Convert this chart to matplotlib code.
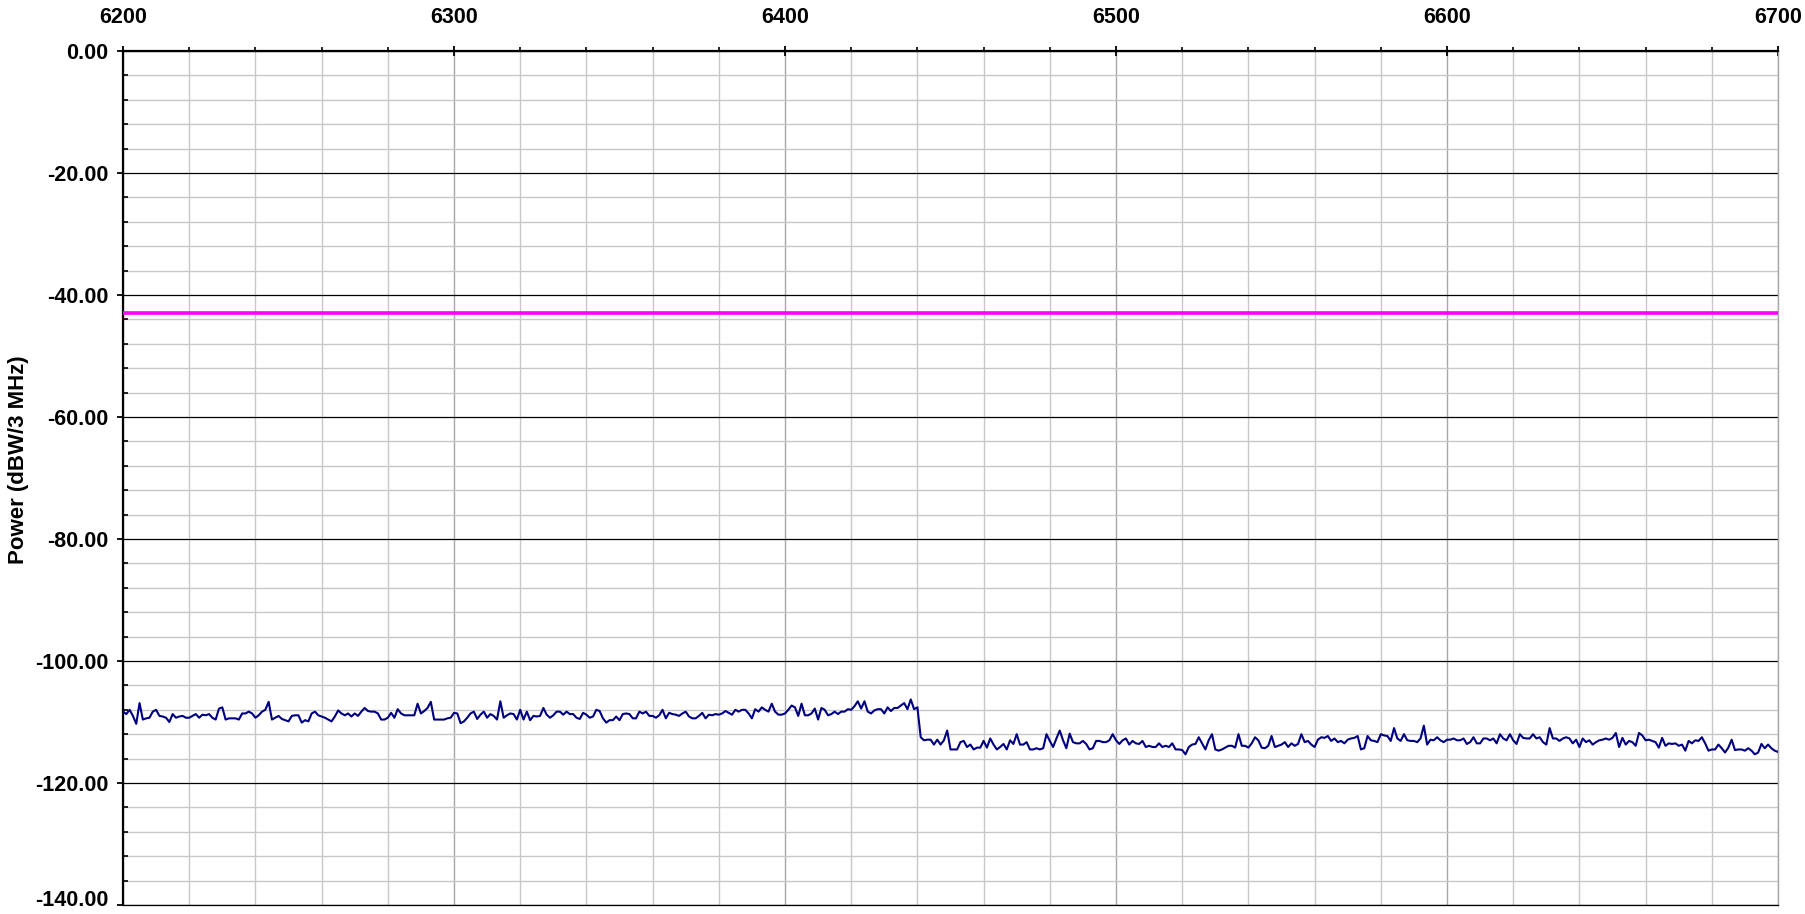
import numpy as np
import matplotlib
matplotlib.use("Agg")
import matplotlib.pyplot as plt
import matplotlib.transforms as mtransforms
from matplotlib.ticker import MultipleLocator, FormatStrFormatter

# ---- data ----
freq_start = 6200
freq_step = 1
power_6200 = [-108.3, -108.7, -108.0, -109.0, -110.3, -106.9, -109.6, -109.4, -109.3, -108.3,
              -108.0, -109.0, -109.1, -109.3, -110.0, -108.7, -109.3, -109.1, -109.0, -109.3,
              -109.3, -109.0, -108.7, -109.3, -108.8, -108.9, -108.7, -109.3, -109.6, -107.8,
              -107.6, -109.6, -109.4, -109.4, -109.4, -109.6, -108.6, -108.6, -108.3, -108.6,
              -109.3, -108.9, -108.3, -108.0, -106.7, -109.6, -109.3, -109.0, -109.5, -109.7,
              -109.9, -109.0, -108.9, -108.9, -110.1, -109.7, -109.9, -108.6, -108.3, -108.9,
              -109.1, -109.3, -109.6, -109.9, -109.1, -108.1, -108.6, -108.9, -108.6, -109.1,
              -108.6, -109.0, -108.3, -107.7, -108.2, -108.3, -108.3, -108.6, -109.6, -109.6,
              -109.3, -108.5, -109.3, -107.9, -108.6, -108.9, -108.9, -108.9, -108.9, -107.0,
              -108.6, -108.2, -107.7, -106.7, -109.6, -109.6, -109.6, -109.6, -109.4, -109.3]
power_6300 = [-108.5, -108.6, -110.2, -109.9, -109.3, -108.6, -108.3, -109.5, -108.8, -108.3,
              -109.3, -108.7, -109.0, -109.6, -106.6, -109.3, -108.9, -108.6, -108.7, -109.6,
              -108.0, -109.6, -108.3, -109.7, -109.0, -109.1, -109.0, -107.7, -108.8, -109.3,
              -108.9, -108.3, -108.3, -108.8, -108.3, -108.7, -108.7, -109.3, -109.5, -108.5,
              -108.8, -109.3, -109.1, -108.0, -108.2, -109.4, -110.1, -109.7, -109.7, -109.1,
              -109.7, -108.7, -108.6, -108.7, -109.4, -109.4, -108.3, -108.6, -108.3, -109.0,
              -109.0, -109.3, -108.9, -108.0, -109.4, -108.5, -108.7, -108.8, -109.0, -108.6,
              -108.3, -109.1, -109.4, -109.4, -109.0, -108.5, -109.4, -108.8, -108.9, -108.7,
              -108.8, -108.6, -108.2, -108.5, -108.8, -108.0, -108.3, -108.0, -108.0, -108.6,
              -109.4, -107.9, -108.3, -107.6, -108.0, -108.3, -107.0, -108.3, -108.8, -108.8]
power_6400 = [-108.6, -108.0, -107.3, -107.6, -109.0, -107.0, -108.9, -108.9, -108.6, -107.8,
              -109.6, -107.7, -108.0, -108.9, -108.7, -108.3, -108.7, -108.3, -108.3, -107.9,
              -108.0, -107.4, -106.6, -107.8, -106.6, -108.3, -108.6, -108.1, -107.9, -107.9,
              -108.6, -107.6, -108.2, -107.7, -107.7, -107.3, -106.9, -107.9, -106.3, -107.9,
              -107.6, -112.5, -113.0, -112.9, -112.9, -113.7, -112.9, -113.7, -113.0, -111.4,
              -114.5, -114.5, -114.5, -113.3, -113.1, -114.1, -113.7, -114.5, -114.2, -114.2,
              -113.1, -114.2, -112.7, -113.7, -114.5, -114.1, -113.6, -114.5, -113.0, -113.6,
              -112.0, -113.7, -113.7, -113.3, -114.5, -114.5, -114.3, -114.5, -114.3, -112.0,
              -113.1, -114.1, -112.7, -111.4, -113.0, -114.3, -111.9, -113.3, -113.5, -113.5,
              -113.1, -113.6, -114.5, -114.3, -113.1, -113.1, -113.3, -113.3, -113.0, -112.0]
power_6500 = [-113.0, -113.6, -113.0, -112.7, -113.7, -113.1, -113.5, -113.6, -113.1, -114.1,
              -113.9, -114.1, -114.1, -113.5, -114.1, -113.9, -114.1, -113.5, -114.5, -114.5,
              -114.6, -115.3, -114.1, -113.7, -113.6, -112.5, -113.5, -114.5, -113.0, -112.0,
              -114.5, -114.7, -114.5, -114.2, -113.9, -113.9, -114.2, -112.0, -113.9, -113.9,
              -114.2, -113.5, -112.5, -113.0, -114.2, -114.3, -113.9, -112.3, -114.1, -113.9,
              -113.7, -113.3, -114.1, -113.5, -113.9, -113.6, -112.0, -113.3, -113.1, -113.7,
              -114.1, -112.9, -112.5, -112.6, -112.3, -113.1, -112.7, -113.3, -113.1, -113.5,
              -112.9, -112.7, -112.6, -112.3, -114.5, -114.3, -112.3, -113.0, -113.1, -113.3,
              -112.0, -112.2, -112.3, -113.1, -111.0, -112.7, -113.1, -112.0, -113.0, -113.1,
              -113.1, -113.3, -112.7, -110.6, -113.7, -112.9, -113.0, -112.5, -113.0, -113.3]
power_6600 = [-112.9, -112.9, -112.7, -113.0, -113.0, -112.7, -113.6, -113.3, -112.5, -113.5,
              -113.5, -112.7, -112.7, -113.0, -112.7, -113.5, -112.0, -112.7, -113.0, -112.0,
              -113.0, -113.6, -112.0, -112.6, -112.7, -112.7, -112.0, -112.7, -112.5, -113.3,
              -113.7, -111.0, -112.7, -112.7, -113.1, -112.7, -112.5, -112.7, -113.5, -112.9,
              -114.1, -112.7, -113.3, -113.0, -113.7, -113.3, -113.0, -112.9, -112.7, -112.9,
              -112.6, -111.8, -114.1, -112.6, -113.7, -113.1, -113.3, -113.9, -111.8, -112.2,
              -113.0, -112.9, -113.1, -113.3, -114.2, -112.6, -113.9, -113.5, -113.6, -113.5,
              -113.9, -113.7, -114.7, -113.1, -113.5, -113.0, -113.1, -112.5, -113.5, -114.7,
              -114.5, -114.5, -113.7, -114.3, -115.0, -114.2, -112.9, -114.6, -114.5, -114.5,
              -114.7, -114.3, -114.7, -115.3, -115.0, -113.6, -114.3, -113.7, -114.3, -114.7,
              -114.9]
limit_level = -43.0
x_range = (6200, 6700)
y_range = (-140, 0)
y_label = "Power (dBW/3 MHz)"

power = power_6200 + power_6300 + power_6400 + power_6500 + power_6600
freqs = freq_start + freq_step * np.arange(len(power))

# ---- plot ----
plt.rcParams['font.family'] = ['Liberation Sans', 'DejaVu Sans']
plt.rcParams['font.weight'] = 'bold'

fig = plt.figure(figsize=(18.06, 9.14), dpi=100)
ax = fig.add_axes([123 / 1806, 1 - 905 / 914, (1778 - 123) / 1806, (905 - 51) / 914])

ax.set_xlim(*x_range)
ax.set_ylim(*y_range)

ax.xaxis.set_major_locator(MultipleLocator(100))
ax.xaxis.set_minor_locator(MultipleLocator(20))
ax.yaxis.set_major_locator(MultipleLocator(20))
ax.yaxis.set_minor_locator(MultipleLocator(4))
ax.yaxis.set_major_formatter(FormatStrFormatter('%.2f'))

ax.grid(which='minor', axis='both', color='#c8c8c8', linewidth=1.0)
ax.grid(which='major', axis='x', color='#a8a8a8', linewidth=1.0)
ax.grid(which='major', axis='y', color='black', linewidth=0.9)
ax.set_axisbelow(True)

ax.axhline(limit_level, color='#ff00ff', linewidth=2.6, zorder=3)
ax.plot(freqs, power, color='#000080', linewidth=1.5, zorder=4)

ax.xaxis.tick_top()
ax.xaxis.set_label_position('top')
ax.tick_params(axis='x', which='major', direction='inout', length=7.5, width=1.3,
               pad=13, labelsize=15.5, top=True, bottom=False)
ax.tick_params(axis='x', which='minor', direction='out', length=3, width=1.2,
               top=True, bottom=False)
ax.tick_params(axis='y', which='major', direction='out', length=4.5, width=1.3,
               pad=6, labelsize=15.5)
ax.tick_params(axis='y', which='minor', direction='in', length=3.5, width=1.2)

ax.spines['top'].set_linewidth(1.6)
ax.spines['left'].set_linewidth(1.6)
ax.spines['bottom'].set_linewidth(0.9)
ax.spines['bottom'].set_color('black')
ax.spines['right'].set_linewidth(1.0)
ax.spines['right'].set_color('#a8a8a8')

ax.set_ylabel(y_label, fontsize=16, fontweight='bold')
ax.yaxis.set_label_coords(-0.0568, 0.522)

fig.canvas.draw()
for tick in ax.yaxis.get_major_ticks():
    tick.label1.set_fontweight('bold')
    if abs(tick.get_loc() - y_range[0]) < 1e-6:
        tick.label1.set_verticalalignment('center_baseline')
        tick.label1.set_transform(tick.label1.get_transform() +
                                  mtransforms.ScaledTranslation(0, 5 / 72, fig.dpi_scale_trans))
for tick in ax.xaxis.get_major_ticks():
    tick.label1.set_fontweight('bold')
    tick.label2.set_fontweight('bold')

fig.savefig('out.png', dpi=100)
